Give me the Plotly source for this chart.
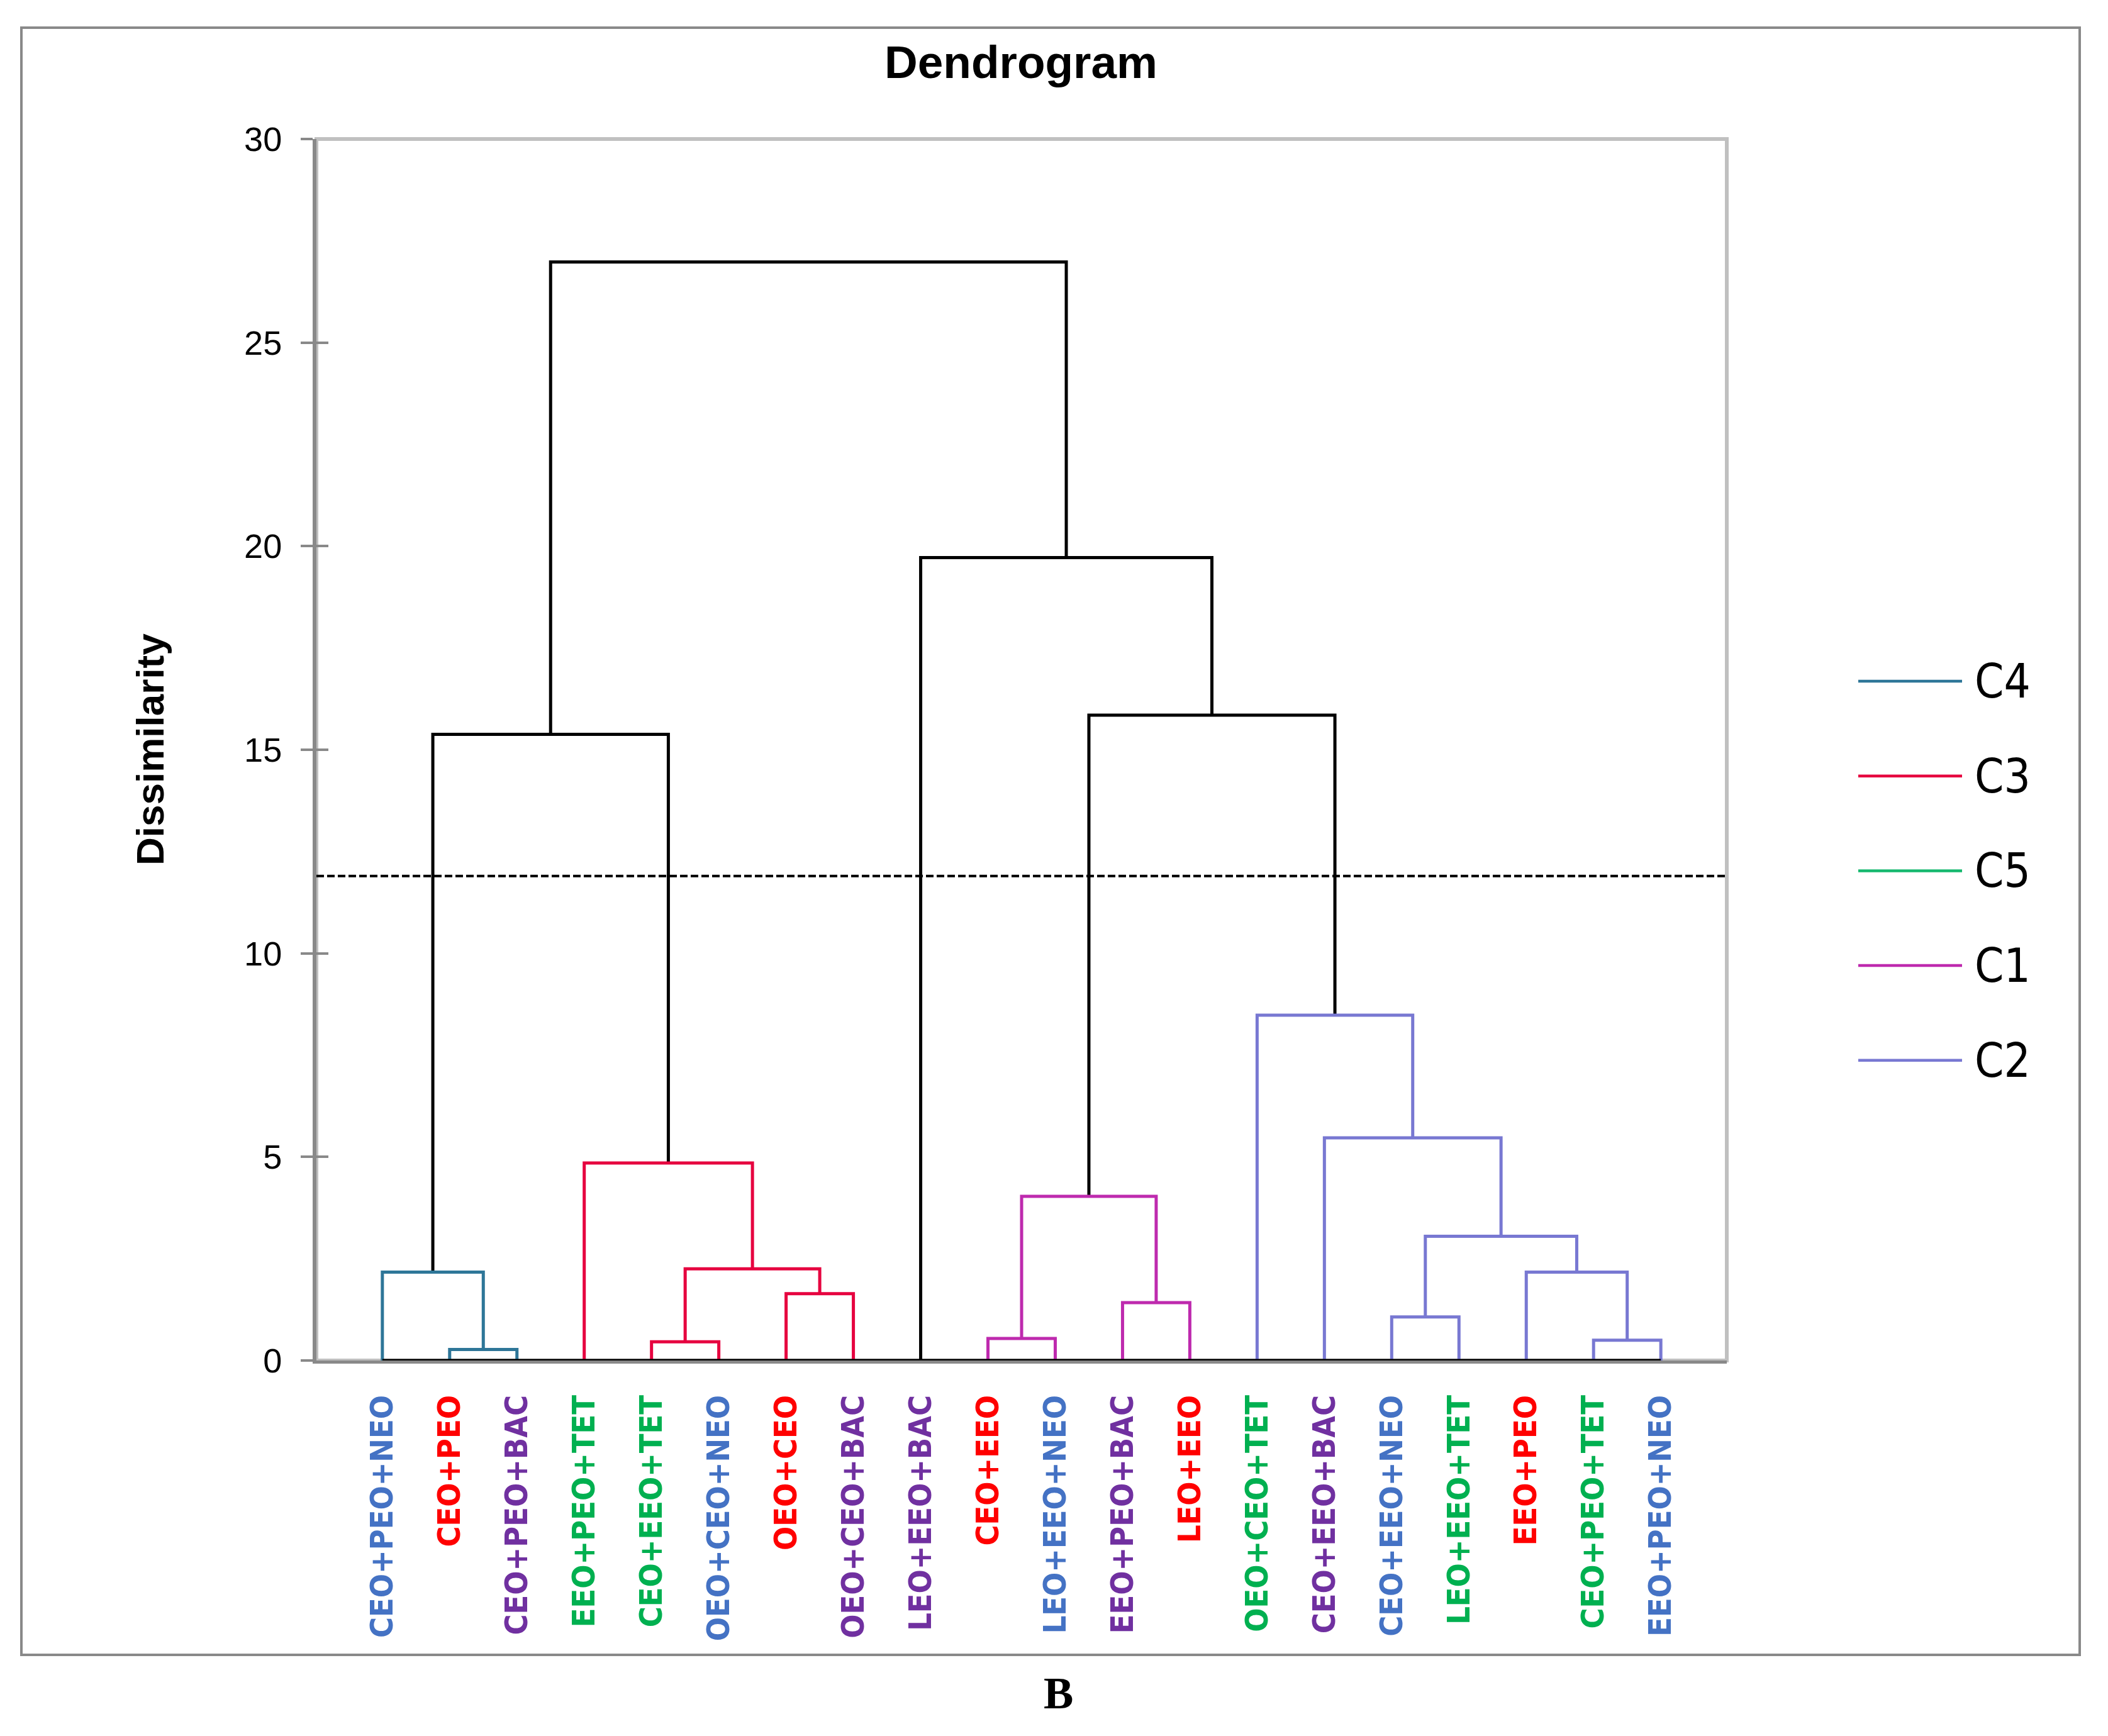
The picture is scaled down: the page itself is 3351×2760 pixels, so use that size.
import plotly.graph_objects as go

# ---------------- data ----------------
leaf_labels = ["CEO+PEO+NEO", "CEO+PEO", "CEO+PEO+BAC", "EEO+PEO+TET", "CEO+EEO+TET",
               "OEO+CEO+NEO", "OEO+CEO", "OEO+CEO+BAC", "LEO+EEO+BAC", "CEO+EEO",
               "LEO+EEO+NEO", "EEO+PEO+BAC", "LEO+EEO", "OEO+CEO+TET", "CEO+EEO+BAC",
               "CEO+EEO+NEO", "LEO+EEO+TET", "EEO+PEO", "CEO+PEO+TET", "EEO+PEO+NEO"]
leaf_types = ["NEO", "EO", "BAC", "TET", "TET", "NEO", "EO", "BAC", "BAC", "EO",
              "NEO", "BAC", "EO", "TET", "BAC", "NEO", "TET", "EO", "TET", "NEO"]

# agglomeration steps (node ids: leaves 0..19, merges 20..)
merge_left = [1, 0, 4, 6, 22, 3, 9, 11, 26, 18, 17, 15, 31, 14, 13, 21, 28, 8, 35]
merge_right = [2, 20, 5, 7, 23, 24, 10, 12, 27, 19, 29, 16, 30, 32, 33, 25, 34, 36, 37]
merge_height = [0.27, 2.17, 0.46, 1.64, 2.25, 4.85, 0.54, 1.42, 4.03, 0.50, 2.17,
                1.07, 3.05, 5.47, 8.48, 15.38, 15.85, 19.72, 26.98]
merge_cluster = ["C4", "C4", "C3", "C3", "C3", "C3", "C1", "C1", "C1", "C2", "C2",
                 "C2", "C2", "C2", "C2", "", "", "", ""]
cut_height = 11.9
legend_clusters = ["C4", "C3", "C5", "C1", "C2"]
y_ticks = [0, 5, 10, 15, 20, 25, 30]

# ---------------- styles ----------------
cluster_colors = {"C4": "#2E7698", "C3": "#E6023F", "C5": "#14B86E",
                  "C1": "#BE2AAE", "C2": "#7878D2", "": "#000000"}
type_colors = {"NEO": "#4472C4", "EO": "#FF0000", "BAC": "#7030A0", "TET": "#00B050"}
AXIS_GREY = "#898989"
BORDER_GREY = "#C0C0C0"
SANS = "Liberation Sans, Arial, sans-serif"
NARROW = "Liberation Sans Narrow, DejaVu Sans Condensed, Liberation Sans, Arial, sans-serif"

OFF = 8                      # default page body margin
W, H = 3351 - OFF, 2760 - OFF
PL, PR, PT, PB = 503 - OFF, 2745 - OFF, 221 - OFF, 2163 - OFF   # plot area pixel edges


def px_x(px):
    return (px - OFF - PL) / (PR - PL)


def px_y(py):
    return (PB - (py - OFF)) / (PB - PT)


# ---------------- dendrogram geometry ----------------
n = len(leaf_labels)
node_x = [i + 1 for i in range(n)]
node_h = [0.0] * n
segs = {}
for a, b, h, c in zip(merge_left, merge_right, merge_height, merge_cluster):
    xa, xb = node_x[a], node_x[b]
    xs, ys = segs.setdefault(c, ([], []))
    xs += [xa, xa, xb, xb, None]
    ys += [node_h[a], h, h, node_h[b], None]
    node_x.append((xa + xb) / 2)
    node_h.append(h)

fig = go.Figure()
order = ["", "C4", "C3", "C1", "C2"]
for c in order:
    if c not in segs:
        continue
    xs, ys = segs[c]
    fig.add_trace(go.Scatter(
        x=xs, y=ys, mode="lines", showlegend=False, cliponaxis=False,
        line=dict(color=cluster_colors[c], width=5),
        hoverinfo="skip"))

# leaf baseline
fig.add_trace(go.Scatter(
    x=[node_x[0], node_x[n - 1]], y=[0, 0], mode="lines", showlegend=False,
    cliponaxis=False, line=dict(color="#000000", width=5), hoverinfo="skip"))

ticktext = [f"<b><span style='color:{type_colors[t]}'>{lab}</span></b>"
            for lab, t in zip(leaf_labels, leaf_types)]

fig.update_layout(
    width=W, height=H,
    margin=dict(l=PL, r=W - PR, t=PT, b=H - PB, pad=0),
    paper_bgcolor="white", plot_bgcolor="white",
    showlegend=False,
    xaxis=dict(range=[0.02, n + 0.98], tickmode="array",
               tickvals=node_x[:n], ticktext=ticktext, tickangle=-90,
               ticks="", showgrid=False, zeroline=False,
               showline=True, linecolor=AXIS_GREY, linewidth=5,
               layer="below traces", ticklabelstandoff=30,
               tickfont=dict(family=NARROW, size=50)),
    yaxis=dict(range=[0, 30], tickmode="array", tickvals=y_ticks,
               ticks="outside", ticklen=19, tickwidth=4, tickcolor=AXIS_GREY,
               showgrid=False, zeroline=False, showline=True,
               linecolor=AXIS_GREY, linewidth=6, layer="below traces",
               ticklabelstandoff=19,
               tickfont=dict(family=SANS, size=54, color="#000000")),
    yaxis2=dict(range=[0, 30], tickmode="array", tickvals=y_ticks,
                overlaying="y", anchor="x", side="left",
                ticks="inside", ticklen=19, tickwidth=4, tickcolor=AXIS_GREY,
                showticklabels=False, showgrid=False, zeroline=False,
                showline=False),
)
# dummy trace to activate yaxis2
fig.add_trace(go.Scatter(x=[None], y=[None], yaxis="y2", showlegend=False))

shapes = []
# plot area border
shapes.append(dict(type="rect", xref="paper", yref="paper", x0=0, x1=1, y0=0, y1=1,
                   line=dict(color=BORDER_GREY, width=6), layer="below"))
# outer frame
shapes.append(dict(type="rect", xref="paper", yref="paper",
                   x0=px_x(34), x1=px_x(3306), y0=px_y(2631), y1=px_y(44),
                   line=dict(color=AXIS_GREY, width=4), layer="below"))
# truncation line
shapes.append(dict(type="line", xref="paper", yref="y", x0=0, x1=1,
                   y0=cut_height, y1=cut_height,
                   line=dict(color="#000000", width=4, dash="12px,5px")))

annotations = []
# custom legend
LEG_X0, LEG_X1, LEG_TX, LEG_Y0, LEG_DY = 2954, 3119, 3137, 1083, 150.7
for k, c in enumerate(legend_clusters):
    yy = px_y(LEG_Y0 + k * LEG_DY)
    shapes.append(dict(type="line", xref="paper", yref="paper",
                       x0=px_x(LEG_X0), x1=px_x(LEG_X1), y0=yy, y1=yy,
                       line=dict(color=cluster_colors[c], width=4.5)))
    annotations.append(dict(text=c, xref="paper", yref="paper", x=px_x(LEG_TX), y=yy,
                            xanchor="left", yanchor="middle", showarrow=False,
                            font=dict(family=NARROW, size=74, color="#000000")))

annotations.append(dict(text="<b>Dendrogram</b>", xref="paper", yref="paper",
                        x=px_x(1623), y=px_y(99), xanchor="center", yanchor="middle",
                        showarrow=False,
                        font=dict(family=SANS, size=73, color="#000000")))
annotations.append(dict(text="<b>Dissimilarity</b>", xref="paper", yref="paper",
                        x=px_x(238), y=0.5, xanchor="center", yanchor="middle",
                        textangle=-90, showarrow=False,
                        font=dict(family=SANS, size=62, color="#000000")))
annotations.append(dict(text="<b>B</b>", xref="paper", yref="paper",
                        x=px_x(1682), y=px_y(2692), xanchor="center", yanchor="middle",
                        showarrow=False,
                        font=dict(family="Liberation Serif, Times New Roman, serif",
                                  size=71, color="#000000")))

fig.update_layout(shapes=shapes, annotations=annotations)
fig.write_html("out.html")
